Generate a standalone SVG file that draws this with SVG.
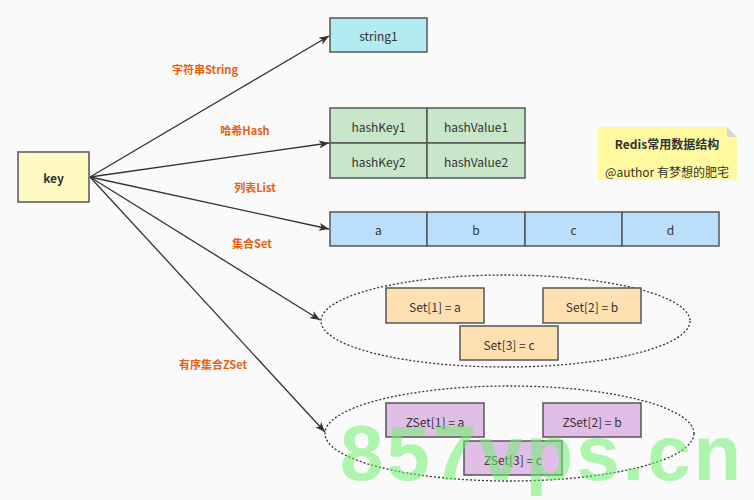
<svg xmlns="http://www.w3.org/2000/svg" width="754" height="500" viewBox="0 0 754 500">
<defs>
<marker id="ah" markerWidth="10" markerHeight="8" refX="10" refY="4" orient="auto" markerUnits="userSpaceOnUse">
<path d="M0,0 L10,4 L0,8 L2.5,4 Z" fill="#333"/>
</marker>
<style>
.n{stroke:#555;stroke-width:1.5}
.t{font-family:"Noto Sans CJK SC","Liberation Sans",sans-serif;font-size:12px;fill:#333;text-anchor:middle;dominant-baseline:central}
.l{font-family:"Noto Sans CJK SC","Liberation Sans",sans-serif;font-size:11px;font-weight:bold;fill:#e8600e;text-anchor:middle;dominant-baseline:central}
.c{stroke:#333;stroke-width:1.3;fill:none;marker-end:url(#ah)}
.e{fill:none;stroke:#333;stroke-width:1.3;stroke-dasharray:2 2}
</style>
</defs>
<rect width="754" height="500" fill="#fafafa"/>
<g id="connectors">
<line class="c" x1="90" y1="177" x2="329" y2="36"/>
<line class="c" x1="90" y1="177" x2="329" y2="143"/>
<line class="c" x1="90" y1="177" x2="329" y2="229"/>
<line class="c" x1="90" y1="177" x2="320" y2="320"/>
<line class="c" x1="90" y1="177" x2="325" y2="432"/>
<text class="l" x="205" y="69">字符串String</text>
<text class="l" x="245" y="130">哈希Hash</text>
<text class="l" x="255" y="187">列表List</text>
<text class="l" x="252" y="243">集合Set</text>
<text class="l" x="213" y="364">有序集合ZSet</text>
</g>
<g id="key"><rect class="n" x="18" y="152" width="71" height="50" fill="#fff9c4"/><text class="t" x="53.5" y="177" font-weight="bold">key</text></g>
<g id="string1"><rect class="n" x="330" y="18" width="97" height="34" fill="#b2ebf2"/><text class="t" x="378.5" y="35">string1</text></g>
<g id="hash">
<rect class="n" x="330" y="108" width="97" height="35" fill="#c8e6c9"/><text class="t" x="378.5" y="126">hashKey1</text>
<rect class="n" x="427" y="108" width="98" height="35" fill="#c8e6c9"/><text class="t" x="476" y="126">hashValue1</text>
<rect class="n" x="330" y="143" width="97" height="35" fill="#c8e6c9"/><text class="t" x="378.5" y="161">hashKey2</text>
<rect class="n" x="427" y="143" width="98" height="35" fill="#c8e6c9"/><text class="t" x="476" y="161">hashValue2</text>
</g>
<g id="list">
<rect class="n" x="330" y="212" width="97" height="34" fill="#bbdefb"/><text class="t" x="378.5" y="229">a</text>
<rect class="n" x="427" y="212" width="98" height="34" fill="#bbdefb"/><text class="t" x="476" y="229">b</text>
<rect class="n" x="525" y="212" width="97" height="34" fill="#bbdefb"/><text class="t" x="573.5" y="229">c</text>
<rect class="n" x="622" y="212" width="97" height="34" fill="#bbdefb"/><text class="t" x="670.5" y="229">d</text>
</g>
<g id="note">
<path d="M598,127 H727 L737,137 V180 H598 Z" fill="#fff9a0"/>
<path d="M727,127 L737,137 H727 Z" fill="#d8d8d8"/>
<text class="t" x="667" y="143" font-weight="bold">Redis常用数据结构</text>
<text class="t" x="667" y="171">@author 有梦想的肥宅</text>
</g>
<g id="set">
<ellipse class="e" cx="505.5" cy="321" rx="184.5" ry="46"/>
<rect class="n" x="386" y="288" width="98" height="35" fill="#ffe0b2"/><text class="t" x="435" y="306">Set[1] = a</text>
<rect class="n" x="543" y="288" width="98" height="35" fill="#ffe0b2"/><text class="t" x="592" y="306">Set[2] = b</text>
<rect class="n" x="460" y="326" width="98" height="34" fill="#ffe0b2"/><text class="t" x="509" y="344">Set[3] = c</text>
</g>
<g id="zset">
<ellipse class="e" cx="509.5" cy="433.5" rx="184.5" ry="47.5"/>
<rect class="n" x="386" y="403" width="98" height="34" fill="#e1bee7"/><text class="t" x="435" y="421">ZSet[1] = a</text>
<rect class="n" x="543" y="403" width="98" height="34" fill="#e1bee7"/><text class="t" x="592" y="421">ZSet[2] = b</text>
<rect class="n" x="464" y="441" width="98" height="34" fill="#e1bee7"/><text class="t" x="513" y="459">ZSet[3] = c</text>
</g>
<text x="340" y="480" font-family="Liberation Sans,sans-serif" font-weight="bold" font-size="78" letter-spacing="3" fill="#6ef06e" fill-opacity="0.55">857vps.cn</text>
</svg>
